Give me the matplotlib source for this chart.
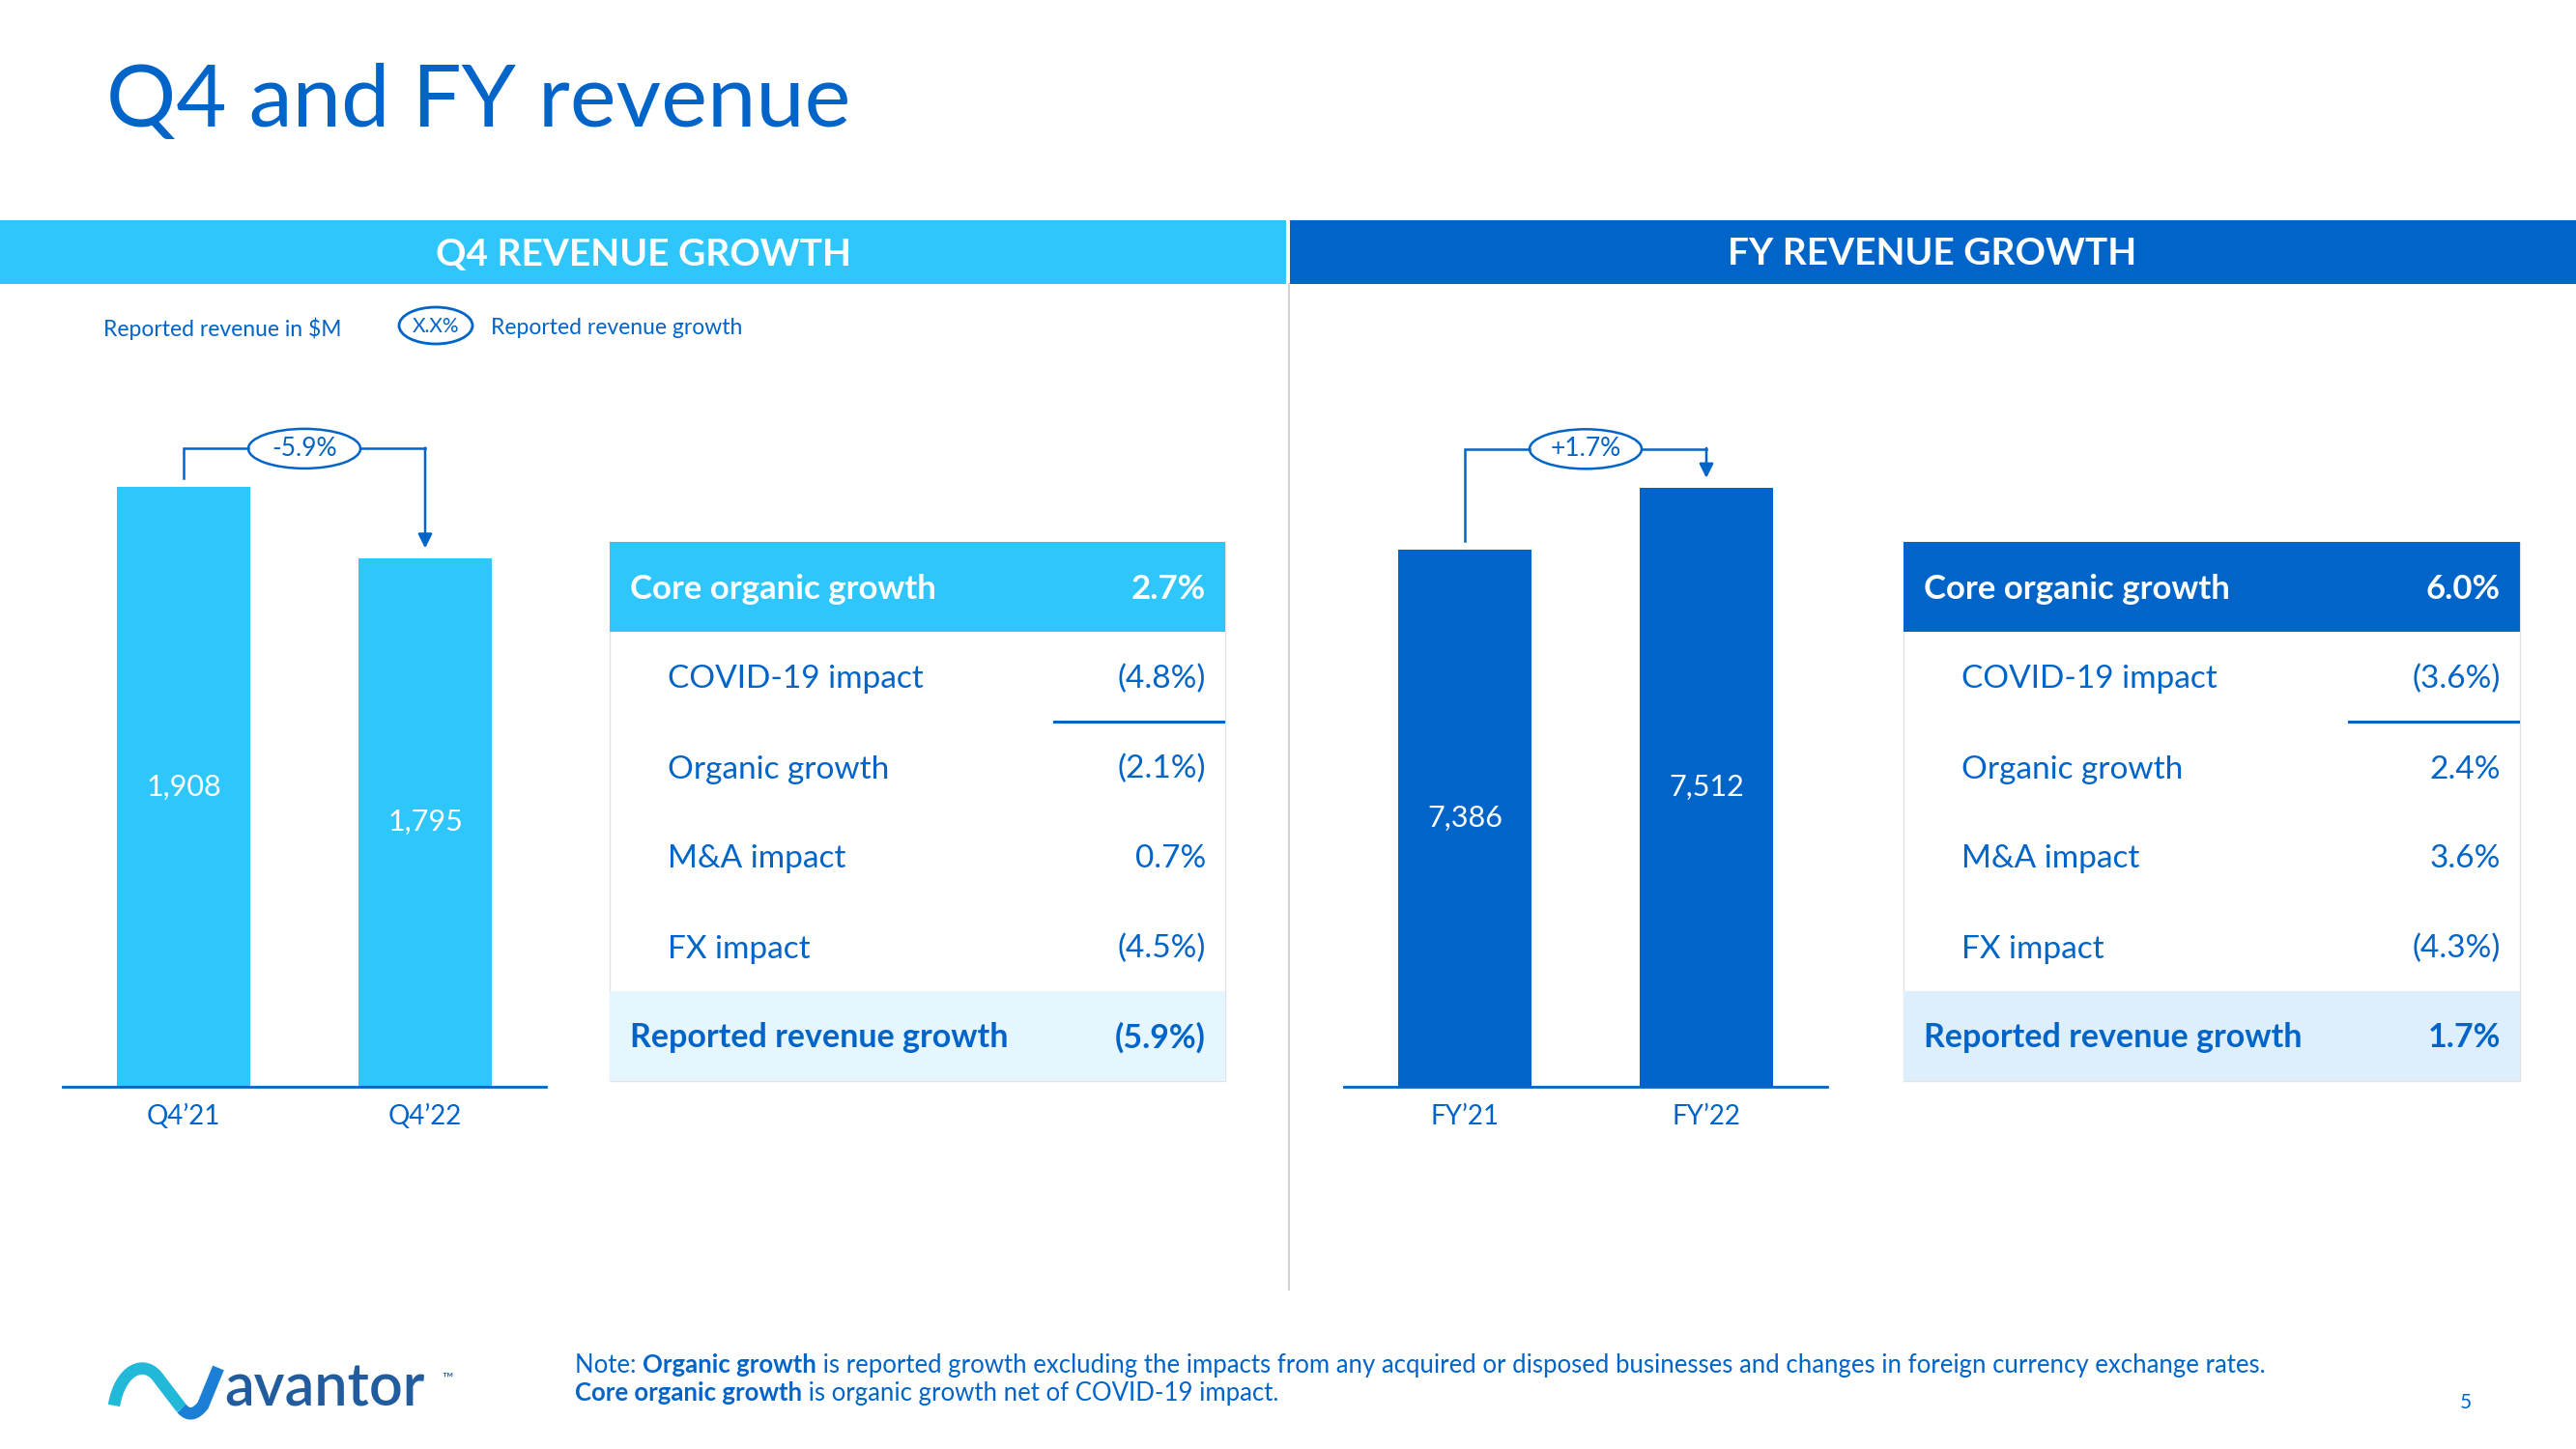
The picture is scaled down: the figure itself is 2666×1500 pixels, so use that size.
import matplotlib
matplotlib.use('Agg')
import matplotlib.pyplot as plt
from matplotlib.patches import Rectangle, Ellipse, PathPatch
from matplotlib.path import Path
import numpy as np

plt.rcParams['font.family'] = ['Lato', 'DejaVu Sans']

BLUE = '#0064C8'
CYAN = '#2FC6FC'
GREY = '#E2E2E2'

# # # data

q4_periods = ['Q4\u201921', 'Q4\u201922']
q4_revenue = [1908, 1795]
q4_growth = '-5.9%'
q4_ylim = [949, 2023]

fy_periods = ['FY\u201921', 'FY\u201922']
fy_revenue = [7386, 7512]
fy_growth = '+1.7%'
fy_ylim = [6302, 7658]

bridge_rows = ['Core organic growth', 'COVID-19 impact', 'Organic growth',
               'M&A impact', 'FX impact', 'Reported revenue growth']
q4_bridge = ['2.7%', '(4.8%)', '(2.1%)', '0.7%', '(4.5%)', '(5.9%)']
fy_bridge = ['6.0%', '(3.6%)', '2.4%', '3.6%', '(4.3%)', '1.7%']

note_line1 = [('Note: ', 'normal'), ('Organic growth', 'bold'),
              (' is reported growth excluding the impacts from any acquired or disposed '
               'businesses and changes in foreign currency exchange rates.', 'normal')]
note_line2 = [('Core organic growth', 'bold'),
              (' is organic growth net of COVID-19 impact.', 'normal')]

W, H = 2666, 1500
fig = plt.figure(figsize=(W / 100, H / 100), dpi=100)
bg = fig.add_axes([0, 0, 1, 1])
bg.set_xlim(0, W)
bg.set_ylim(H, 0)
bg.axis('off')


def px_axes(x0, y0, x1, y1):
    # box given in slide pixels, y counted from the top
    return fig.add_axes([x0 / W, 1 - y1 / H, (x1 - x0) / W, (y1 - y0) / H])


# title and header bands
bg.text(110, 131, 'Q4 and FY revenue', fontsize=65, fontweight='normal',
        color=BLUE, va='baseline')
bg.add_patch(Rectangle((0, 228), 1331, 66, fc=CYAN, ec='none'))
bg.add_patch(Rectangle((1335, 228), W - 1335, 66, fc=BLUE, ec='none'))
bg.text(666, 263, 'Q4 REVENUE GROWTH', fontsize=28, fontweight='bold',
        color='white', ha='center', va='center')
bg.text(2000, 263, 'FY REVENUE GROWTH', fontsize=28, fontweight='bold',
        color='white', ha='center', va='center')
bg.plot([1334, 1334], [294, 1335], color='#D3D3D3', lw=1.5)

# legend row
bg.text(107, 340, 'Reported revenue in $M', fontsize=16.5, color=BLUE, va='center')
bg.add_patch(Ellipse((451, 337), 76, 38, fc='white', ec=BLUE, lw=2))
bg.text(451, 338, 'X.X%', fontsize=15, color=BLUE, ha='center', va='center')
bg.text(508, 340, 'Reported revenue growth', fontsize=16.5, color=BLUE, va='center')


def bar_panel(x0, periods, values, ylim, color, growth):
    ax = px_axes(x0, 430, x0 + 500, 1125)
    ax.patch.set_alpha(0)
    x = np.arange(len(values))
    ax.bar(x, values, width=0.55, color=color, zorder=2)
    ax.set_xlim(-0.5, 1.5)
    ax.set_ylim(ylim)
    for side in ['left', 'right', 'top']:
        ax.spines[side].set_visible(False)
    ax.spines['bottom'].set_color(BLUE)
    ax.spines['bottom'].set_linewidth(2)
    ax.set_yticks([])
    ax.set_xticks(x, periods)
    ax.tick_params(axis='x', length=0, pad=13, labelsize=20, labelcolor=BLUE)
    for xi, v in zip(x, values):
        ax.text(xi, ylim[0] + (v - ylim[0]) / 2, f'{v:,}', ha='center',
                va='center', color='white', fontsize=22)

    # growth bracket
    u = (ylim[1] - ylim[0]) / 695.0   # data units per pixel
    level = max(values) + 40 * u
    mid = (x[0] + x[1]) / 2
    half = 58 / 250.0
    ax.plot([x[0], x[0], mid - half], [values[0] + 9 * u, level, level],
            color=BLUE, lw=1.8, solid_joinstyle='miter')
    ax.plot([mid + half, x[1]], [level, level], color=BLUE, lw=1.8)
    ax.annotate('', xy=(x[1], values[1] + 10 * u), xytext=(x[1], level + 0.9 * u),
                arrowprops=dict(arrowstyle='-|>', color=BLUE, lw=1.8,
                                mutation_scale=22, shrinkA=0, shrinkB=0))
    ax.add_patch(Ellipse((mid, level), 2 * half, 41 * u, fc='white', ec=BLUE, lw=1.8))
    ax.text(mid, level, growth, ha='center', va='center', color=BLUE, fontsize=19)


bar_panel(65, q4_periods, q4_revenue, q4_ylim, CYAN, q4_growth)
bar_panel(1391, fy_periods, fy_revenue, fy_ylim, BLUE, fy_growth)


def bridge_table(x0, x1, values, head_color, foot_color):
    top, rh = 561, 93
    bg.add_patch(Rectangle((x0, top), x1 - x0, 6 * rh, fc='white', ec=GREY, lw=1))
    bg.add_patch(Rectangle((x0, top), x1 - x0, rh, fc=head_color, ec='none'))
    bg.add_patch(Rectangle((x0, top + 5 * rh), x1 - x0, rh, fc=foot_color, ec='none'))
    for i, (label, val) in enumerate(zip(bridge_rows, values)):
        yb = top + rh * (i + 0.5) + 12
        if i == 0:
            kw = dict(color='white', fontweight='bold', fontsize=25)
            lx = x0 + 21
        elif i == len(bridge_rows) - 1:
            kw = dict(color=BLUE, fontweight='bold', fontsize=24.5)
            lx = x0 + 21
        else:
            kw = dict(color=BLUE, fontweight='normal', fontsize=24)
            lx = x0 + 60
        bg.text(lx, yb, label, va='baseline', **kw)
        bg.text(x1 - 20, yb, val, va='baseline', ha='right', **kw)
    bg.plot([x1 - 177, x1 - 2], [top + 2 * rh, top + 2 * rh], color=BLUE, lw=2.2)


bridge_table(631, 1268, q4_bridge, CYAN, '#E6F6FE')
bridge_table(1970, 2608, fy_bridge, BLUE, '#DDEEFC')


# footnote with bold runs
def rich_line(x, y, parts, size):
    r = fig.canvas.get_renderer()
    for s, w in parts:
        t = bg.text(x, y, s, fontsize=size, fontweight=w, color=BLUE, va='baseline')
        x += t.get_window_extent(renderer=r).width


rich_line(595, 1421, note_line1, 18.5)
rich_line(595, 1450, note_line2, 18.5)
bg.text(2552, 1458, '5', fontsize=15, color=BLUE, ha='center', va='baseline')

# logo
arch = Path([(118, 1455), (124, 1418), (150, 1405), (165, 1428), (188, 1458)],
            [Path.MOVETO, Path.CURVE4, Path.CURVE4, Path.CURVE4, Path.LINETO])
swoop = Path([(188, 1458), (198, 1470), (210, 1455), (226, 1416)],
             [Path.MOVETO, Path.CURVE3, Path.CURVE3, Path.LINETO])
bg.add_patch(PathPatch(arch, fc='none', ec='#22B8D8', lw=9, capstyle='butt'))
bg.add_patch(PathPatch(swoop, fc='none', ec='#1C7FD6', lw=9, capstyle='butt'))
bg.text(232, 1455, 'avantor', fontsize=44, fontweight='semibold',
        color='#215C9E', va='baseline')
bg.text(457, 1432, '\u2122', fontsize=11, color='#215C9E', va='baseline')

fig.savefig('out.png', dpi=100)
